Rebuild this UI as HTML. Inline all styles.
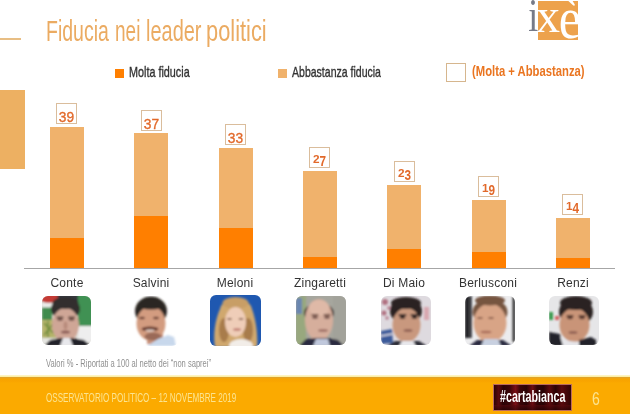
<!DOCTYPE html>
<html><head><meta charset="utf-8">
<style>
*{margin:0;padding:0;box-sizing:border-box}
html,body{width:630px;height:414px;overflow:hidden;background:#fff}
body{position:relative;font-family:"Liberation Sans",sans-serif}
.a{position:absolute}
.t{position:absolute;white-space:nowrap;transform-origin:0 0}
.tt{top:13.7px;font-size:29px;line-height:34px;color:#EBAB62}
.bar{position:absolute;width:34px;background:#F0B26C}
.dk{position:absolute;left:0;right:0;bottom:0;background:#FF7F00}
.lb{position:absolute;width:21px;height:20.5px;border:1px solid #DABD9C;background:#fff;color:#E2692A}
.lb span{position:absolute;left:0;width:19px;top:5px;font-size:15.3px;line-height:15.3px;text-align:center;transform:scaleX(0.9);-webkit-text-stroke:0.35px #E2692A}
.lb i{font-style:normal;display:inline-block;transform:scaleY(1.4);transform-origin:50% 20%}
.lb.os span{top:6.3px;font-size:10.5px;line-height:10.5px;font-weight:bold;transform:scaleX(1.12);-webkit-text-stroke:0}
.nm{position:absolute;top:277px;width:84px;text-align:center;font-size:12px;line-height:12px;color:#333;letter-spacing:0.2px}
.ph{position:absolute;top:296px;width:50px;height:50px;border-radius:7px;overflow:hidden}
</style></head><body>
<!-- header line & title -->
<div class="a" style="left:0;top:38px;width:21px;height:1.5px;background:#E8BE84"></div>
<div class="t tt" style="left:45.7px;transform:scaleX(0.672)">Fiducia</div><div class="t tt" style="left:114.7px;transform:scaleX(0.655)">nei</div><div class="t tt" style="left:146.0px;transform:scaleX(0.688)">leader</div><div class="t tt" style="left:206.0px;transform:scaleX(0.753)">politici</div>

<!-- logo -->
<svg class="a" style="left:520px;top:0" width="70" height="45" viewBox="0 0 70 45">
<defs><clipPath id="cl"><rect x="18" y="1" width="40" height="39"/></clipPath></defs>
<rect x="18" y="1" width="40" height="39" fill="#EDA24C"/>
<text x="0" y="0" transform="translate(8.3,31) scale(0.78,1)" font-family="Liberation Serif" font-size="46" fill="#767A88">i</text>
<g clip-path="url(#cl)" fill="#fff" font-family="Liberation Serif">
<text x="16" y="31.5" font-size="48">x</text>
<text x="0" y="0" transform="translate(38.8,37.5) scale(1.05,1.25)" font-size="48">è</text>
</g>
</svg>
<!-- legend -->
<div class="a" style="left:115px;top:69px;width:9px;height:9px;background:#FF7F00"></div>
<div class="t" id="lg1" style="left:129px;top:63.5px;font-size:14.5px;line-height:16px;color:#333;transform:scaleX(0.745);-webkit-text-stroke:0.35px #333">Molta fiducia</div>
<div class="a" style="left:278px;top:69px;width:9px;height:9px;background:#F0B26C"></div>
<div class="t" id="lg2" style="left:292px;top:63.5px;font-size:14.5px;line-height:16px;color:#333;transform:scaleX(0.726);-webkit-text-stroke:0.35px #333">Abbastanza fiducia</div>
<div class="a" style="left:446px;top:63px;width:19.5px;height:19px;border:1px solid #D6B68E"></div>
<div class="t" id="lg3" style="left:472px;top:62.5px;font-size:15.5px;line-height:16px;color:#EA7520;font-weight:bold;transform:scaleX(0.727)">(Molta + Abbastanza)</div>

<!-- left block -->
<div class="a" style="left:0;top:90px;width:25px;height:79px;background:#EDB062"></div>

<!-- axis -->
<div class="a" style="left:24px;top:268px;width:591px;height:1px;background:#A6A6A6"></div>

<!-- bars -->
<div class="bar" style="left:50px;top:127px;height:141px"><div class="dk" style="height:30px"></div></div>
<div class="bar" style="left:134px;top:133px;height:135px"><div class="dk" style="height:52px"></div></div>
<div class="bar" style="left:219px;top:148px;height:120px"><div class="dk" style="height:40px"></div></div>
<div class="bar" style="left:303px;top:171px;height:97px"><div class="dk" style="height:11.5px"></div></div>
<div class="bar" style="left:387px;top:184.5px;height:83.5px"><div class="dk" style="height:18.6px"></div></div>
<div class="bar" style="left:472px;top:200px;height:68px"><div class="dk" style="height:16px"></div></div>
<div class="bar" style="left:556px;top:218px;height:50px"><div class="dk" style="height:10px"></div></div>

<!-- value labels -->
<div class="lb" style="left:56px;top:103px"><span>39</span></div>
<div class="lb" style="left:141px;top:110px"><span>37</span></div>
<div class="lb" style="left:225px;top:124px"><span>33</span></div>
<div class="lb os" style="left:309px;top:147px"><span>2<i>7</i></span></div>
<div class="lb os" style="left:394px;top:161px"><span>2<i>3</i></span></div>
<div class="lb os" style="left:478px;top:176px"><span>1<i>9</i></span></div>
<div class="lb os" style="left:562px;top:194px"><span>1<i>4</i></span></div>
<!-- names -->
<div class="nm" style="left:25px">Conte</div>
<div class="nm" style="left:109px">Salvini</div>
<div class="nm" style="left:193px">Meloni</div>
<div class="nm" style="left:278px">Zingaretti</div>
<div class="nm" style="left:362px">Di Maio</div>
<div class="nm" style="left:446px">Berlusconi</div>
<div class="nm" style="left:531px">Renzi</div>

<!-- photos -->
<svg class="a" style="left:42px;top:296px" width="49" height="49" viewBox="0 0 49 49"><defs><clipPath id="pc1"><rect width="49" height="49" rx="6"/></clipPath><filter id="pf1" x="-20%" y="-20%" width="140%" height="140%"><feGaussianBlur stdDeviation="0.8"/></filter></defs><g clip-path="url(#pc1)"><rect width="49" height="49" fill="#dcdad4"/><g filter="url(#pf1)"><rect x="14" y="-2" width="24" height="9" rx="0" fill="#34383c"/><ellipse cx="7" cy="1.5" rx="9" ry="5.5" fill="#c43a36"/><rect x="0" y="7" width="14" height="5" rx="0" fill="#ececea"/><rect x="0" y="11.5" width="10" height="12.5" rx="0" fill="#3f8c4e"/><rect x="0" y="24" width="14" height="18" rx="0" fill="#b5b46a"/><path d="M2 27 L11 37 M2 39 L11 28 M6 25 L6 41" stroke="#6f8c3e" stroke-width="1.6"/><rect x="0" y="42" width="14" height="8" rx="0" fill="#e6e6e2"/><rect x="36" y="-2" width="15" height="33" rx="0" fill="#3f9152"/><rect x="36" y="30" width="15" height="16" rx="0" fill="#eeeeee"/><ellipse cx="23.5" cy="13" rx="14.5" ry="11" fill="#302e2e"/><ellipse cx="23.5" cy="29" rx="13.5" ry="17" fill="#cfa696"/><ellipse cx="23.5" cy="7" rx="13" ry="6" fill="#302e2e"/><rect x="14.5" y="20.5" width="7" height="1.8" rx="0.9" fill="#5a4038"/><rect x="26.0" y="20.5" width="7" height="1.8" rx="0.9" fill="#5a4038"/><ellipse cx="18" cy="23.5" rx="3" ry="1.3" fill="#6a4a44"/><ellipse cx="29.5" cy="23.5" rx="3" ry="1.3" fill="#6a4a44"/><ellipse cx="23.5" cy="29.5" rx="2" ry="4" fill="#b88a7a"/><ellipse cx="23.5" cy="36" rx="4.5" ry="1.5" fill="#8a5a54"/><path d="M2 50 L8 44 L18 42 L30 42 L42 44 L49 50Z" fill="#23232c"/><path d="M18 50 L21 42 L28 42 L31 50Z" fill="#e8e8ec"/></g></g></svg>
<svg class="a" style="left:128px;top:296px" width="50" height="50" viewBox="0 0 50 50"><defs><clipPath id="pc2"><rect width="50" height="50" rx="6"/></clipPath><filter id="pf2" x="-20%" y="-20%" width="140%" height="140%"><feGaussianBlur stdDeviation="0.8"/></filter></defs><g clip-path="url(#pc2)"><rect width="50" height="50" fill="#ffffff"/><g filter="url(#pf2)"><rect x="19" y="38" width="16" height="10" rx="0" fill="#c89078"/><ellipse cx="23" cy="15" rx="16" ry="14.5" fill="#2c2624"/><ellipse cx="23" cy="27.5" rx="14.5" ry="17.5" fill="#d39c80"/><ellipse cx="23" cy="9" rx="13.5" ry="4.5" fill="#2c2624"/><ellipse cx="14" cy="22" rx="3" ry="1.3" fill="#6a4036"/><ellipse cx="28" cy="22" rx="3" ry="1.3" fill="#6a4036"/><ellipse cx="22" cy="33" rx="8.5" ry="2.6" fill="#6a3e30"/><ellipse cx="22" cy="34.6" rx="4.5" ry="1.1" fill="#e8d8d0"/><ellipse cx="25" cy="40.5" rx="8.5" ry="4" fill="#9a6a58"/><path d="M19 50 L30 43 L40 39 L46 41 L48 50Z" fill="#c8d8ec"/></g></g></svg>
<svg class="a" style="left:210px;top:295px" width="51" height="51" viewBox="0 0 51 51"><defs><clipPath id="pc3"><rect width="51" height="51" rx="6"/></clipPath><filter id="pf3" x="-20%" y="-20%" width="140%" height="140%"><feGaussianBlur stdDeviation="0.8"/></filter></defs><g clip-path="url(#pc3)"><rect width="51" height="51" fill="#1f58b0"/><g filter="url(#pf3)"><path d="M10 14 C12 1 40 1 42 14 C46 25 48 40 47 52 L5 52 C3 40 5 25 10 14Z" fill="#d0a86e"/><ellipse cx="14" cy="35" rx="5" ry="12" fill="#a87c4c"/><ellipse cx="38" cy="35" rx="5" ry="12" fill="#a87c4c"/><ellipse cx="25.5" cy="8" rx="13" ry="6" fill="#c89e66"/><ellipse cx="25.5" cy="27" rx="10.5" ry="15" fill="#efcdb8"/><ellipse cx="19.5" cy="24" rx="2.5" ry="1.1" fill="#8a6450"/><ellipse cx="31" cy="24" rx="2.5" ry="1.1" fill="#8a6450"/><ellipse cx="27" cy="34.5" rx="4" ry="1.3" fill="#c07a70"/><ellipse cx="31" cy="51" rx="12" ry="7" fill="#f2ede8"/></g></g></svg>
<svg class="a" style="left:296px;top:296px" width="50" height="49" viewBox="0 0 50 49"><defs><clipPath id="pc4"><rect width="50" height="49" rx="6"/></clipPath><filter id="pf4" x="-20%" y="-20%" width="140%" height="140%"><feGaussianBlur stdDeviation="0.8"/></filter></defs><g clip-path="url(#pc4)"><rect width="50" height="49" fill="#a6a69e"/><g filter="url(#pf4)"><rect x="0" y="0" width="10" height="50" rx="0" fill="#98a87e"/><rect x="0" y="2" width="6" height="16" rx="0" fill="#6a86b0"/><rect x="37" y="0" width="13" height="50" rx="0" fill="#a2a29a"/><ellipse cx="23" cy="17" rx="15" ry="10" fill="#3a3230"/><ellipse cx="23" cy="24" rx="14" ry="21" fill="#d6ae9c"/><ellipse cx="23" cy="12" rx="10" ry="8" fill="#dfb9a7"/><rect x="15.5" y="18" width="7" height="1.8" rx="0.9" fill="#6a4a40"/><rect x="27.5" y="18" width="7" height="1.8" rx="0.9" fill="#6a4a40"/><ellipse cx="19" cy="21.5" rx="3" ry="1.3" fill="#6a4a44"/><ellipse cx="31" cy="21.5" rx="3" ry="1.3" fill="#6a4a44"/><ellipse cx="27" cy="34.5" rx="5" ry="1.3" fill="#9a6a60"/><path d="M3 50 L10 43 L22 42 L32 42 L42 44 L48 50Z" fill="#2a2c40"/><path d="M17 50 L20 43 L32 43 L34 50Z" fill="#c0c8dc"/></g></g></svg>
<svg class="a" style="left:381px;top:296px" width="50" height="49" viewBox="0 0 50 49"><defs><clipPath id="pc5"><rect width="50" height="49" rx="6"/></clipPath><filter id="pf5" x="-20%" y="-20%" width="140%" height="140%"><feGaussianBlur stdDeviation="0.8"/></filter></defs><g clip-path="url(#pc5)"><rect width="50" height="49" fill="#dedadf"/><g filter="url(#pf5)"><circle cx="4" cy="6" r="3" fill="#b07080"/><circle cx="3" cy="17" r="2.5" fill="#b07080"/><circle cx="8" cy="12" r="2" fill="#c08898"/><circle cx="6" cy="22" r="1.8" fill="#b88090"/><path d="M0 35 L11 33 L12 47 L0 48Z" fill="#3a5a9a"/><path d="M0 40 L11 38" stroke="#e0e0e8" stroke-width="1.5"/><rect x="43" y="11" width="5" height="13" rx="0" fill="#d8a8b0"/><ellipse cx="25" cy="15" rx="16" ry="13" fill="#2a2422"/><ellipse cx="25.5" cy="29" rx="14" ry="17" fill="#c9987e"/><ellipse cx="25" cy="7" rx="15" ry="6" fill="#2a2422"/><rect x="17.5" y="18" width="8" height="2" rx="0.9" fill="#2a2020"/><rect x="29.5" y="18" width="8" height="2" rx="0.9" fill="#2a2020"/><ellipse cx="21.5" cy="21.5" rx="3" ry="1.4" fill="#3a2a28"/><ellipse cx="33.5" cy="21.5" rx="3" ry="1.4" fill="#3a2a28"/><ellipse cx="27" cy="34.5" rx="4.5" ry="1.3" fill="#8a5a50"/><path d="M6 50 L14 45 L38 45 L46 50Z" fill="#2a2a34"/><path d="M18 50 L21 45 L32 45 L35 50Z" fill="#e8e8ec"/></g></g></svg>
<svg class="a" style="left:465px;top:296px" width="50" height="49" viewBox="0 0 50 49"><defs><clipPath id="pc6"><rect width="50" height="49" rx="6"/></clipPath><filter id="pf6" x="-20%" y="-20%" width="140%" height="140%"><feGaussianBlur stdDeviation="0.8"/></filter></defs><g clip-path="url(#pc6)"><rect width="50" height="49" fill="#ececee"/><g filter="url(#pf6)"><defs><linearGradient id="bg6"><stop offset="0" stop-color="#101012"/><stop offset="1" stop-color="#505054"/></linearGradient></defs><rect x="0" y="0" width="7" height="42" rx="0" fill="url(#bg6)"/><rect x="47.5" y="0" width="3" height="46" rx="0" fill="#303032"/><ellipse cx="25" cy="16" rx="17.5" ry="13" fill="#765440"/><ellipse cx="25" cy="27" rx="16.5" ry="19.5" fill="#d8a486"/><ellipse cx="25" cy="4.5" rx="15" ry="5" fill="#765440"/><ellipse cx="15" cy="22" rx="3" ry="1.1" fill="#8a5a48"/><ellipse cx="26" cy="22" rx="3" ry="1.1" fill="#8a5a48"/><ellipse cx="21" cy="36" rx="5.5" ry="1.3" fill="#a86a58"/><path d="M4 50 L12 44 L38 44 L47 50Z" fill="#2a2c40"/><path d="M16 50 L19 43 L33 43 L36 50Z" fill="#c8d0e0"/></g></g></svg>
<svg class="a" style="left:549px;top:296px" width="50" height="49" viewBox="0 0 50 49"><defs><clipPath id="pc7"><rect width="50" height="49" rx="6"/></clipPath><filter id="pf7" x="-20%" y="-20%" width="140%" height="140%"><feGaussianBlur stdDeviation="0.8"/></filter></defs><g clip-path="url(#pc7)"><rect width="50" height="49" fill="#e6e6e8"/><g filter="url(#pf7)"><rect x="0" y="16" width="4" height="8" rx="0" fill="#3a9a50"/><rect x="6" y="20" width="4" height="4" rx="0" fill="#d06060"/><ellipse cx="27" cy="16" rx="17" ry="14" fill="#2a2422"/><ellipse cx="25.5" cy="29" rx="15" ry="17" fill="#c99478"/><ellipse cx="27" cy="7" rx="16" ry="7" fill="#2a2422"/><rect x="17.5" y="19" width="7" height="1.8" rx="0.9" fill="#4a3028"/><rect x="29.5" y="19" width="7" height="1.8" rx="0.9" fill="#4a3028"/><ellipse cx="21" cy="22" rx="3" ry="1.3" fill="#5a3a30"/><ellipse cx="33" cy="22" rx="3" ry="1.3" fill="#5a3a30"/><ellipse cx="24" cy="36.5" rx="4.5" ry="1.3" fill="#8a5a50"/><path d="M0 36 L11 38 L15 50 L0 50Z" fill="#22222a"/><path d="M30 44 L42 41 L47 44 L47 50 L30 50Z" fill="#22222a"/><path d="M11 40 L18 45 L30 46 L30 50 L14 50Z" fill="#e6e6ea"/></g></g></svg>
<!-- note -->
<div class="t" id="note" style="left:46px;top:357px;font-size:10.5px;line-height:12px;color:#909090;transform:scaleX(0.72)">Valori % - Riportati a 100 al netto dei “non saprei”</div>

<!-- footer -->
<div class="a" style="left:0;top:375px;width:630px;height:39px;background:linear-gradient(180deg,#FFFAE0 0px,#FCEFA6 1px,#FCEFA6 2px,#DCA232 2px,#E8A420 3px,#F8A600 4px,#F9A400 6px,#FBAA00 8px,#FBAA00 100%)"></div>
<div class="t" id="foot" style="left:46px;top:391px;font-size:13.5px;line-height:14px;color:#FCE490;transform:scaleX(0.60)">OSSERVATORIO POLITICO – 12 NOVEMBRE 2019</div>
<div class="a" style="left:493px;top:384px;width:79px;height:27px;border:1px solid #B86A60;background:linear-gradient(180deg,rgba(0,0,0,0) 0%,rgba(0,0,0,0) 78%,rgba(90,10,14,0.6) 80%,rgba(40,4,6,0.6) 100%),linear-gradient(90deg,#2c0305 0%,#5a0a0e 6%,#2a0305 12%,#3a0508 20%,#7a1016 28%,#3a0508 34%,#2a0305 42%,#6a0c12 50%,#300406 56%,#280305 64%,#5a0a0e 72%,#2c0305 80%,#5a0a0e 88%,#300406 100%)"></div>
<div class="t" id="cb" style="left:500px;top:387.5px;font-size:17px;line-height:18px;color:#fff;font-weight:bold;transform:scaleX(0.629)">#cartabianca</div>
<div class="t" style="left:592px;top:390px;font-size:17.5px;line-height:18px;color:#FCE490;transform:scaleX(0.8)">6</div>
</body></html>
